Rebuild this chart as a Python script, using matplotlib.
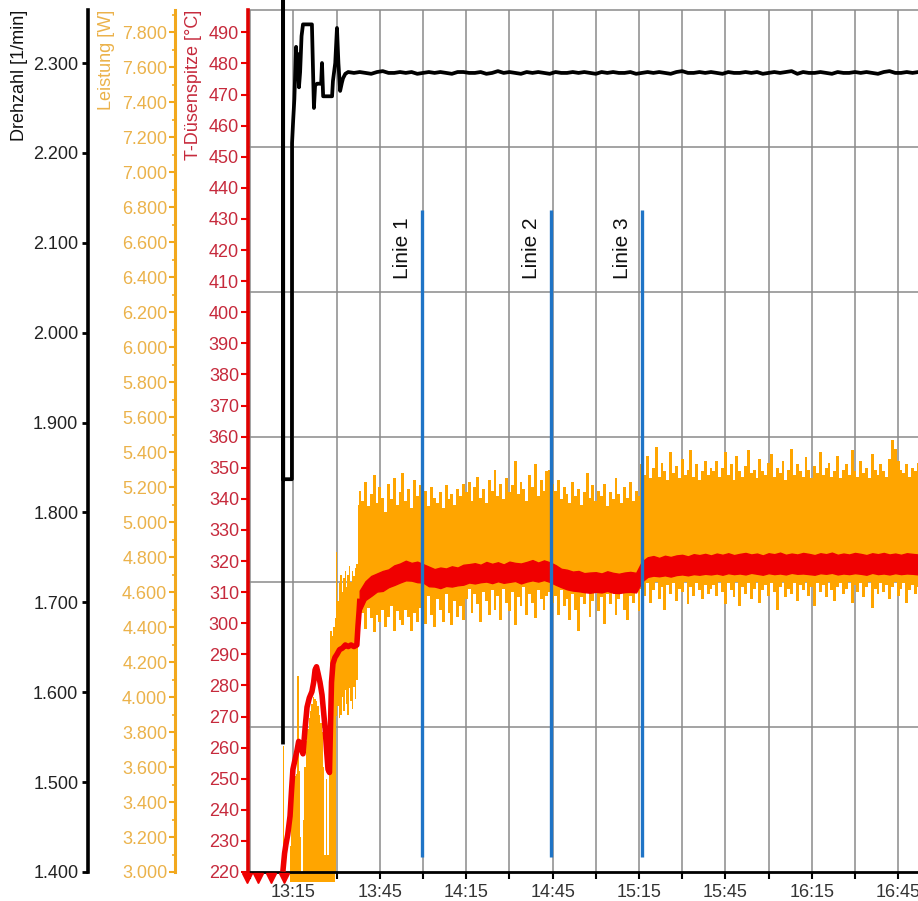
import numpy as np
import matplotlib
matplotlib.use('Agg')
import matplotlib.pyplot as plt
from matplotlib.ticker import MultipleLocator, FixedLocator, FuncFormatter

plt.rcParams['font.family'] = ['Liberation Sans', 'DejaVu Sans']

# Zeit in Minuten nach 13:00
x_ticks = [15, 45, 75, 105, 135, 165, 195, 225]
x_labels = ['13:15', '13:45', '14:15', '14:45', '15:15', '15:45', '16:15', '16:45']
x_minor = [0, 30, 60, 90, 120, 150, 180, 210]

# Drehzahl [1/min]
drehzahl_t = [11.35, 11.40, 11.45, 14.45, 14.50, 14.90, 15.30, 15.90, 16.20, 16.50,
              16.90, 17.30, 17.80, 18.30, 21.40, 21.80, 22.10, 22.50, 23.20, 24.60,
              24.90, 25.30, 28.40, 28.70, 29.50, 30.10, 30.60, 31.20, 31.80, 32.20, 33.00]
drehzahl_v = [1544, 2450, 1837, 1837, 2211, 2237, 2260, 2318, 2285, 2310,
              2273, 2290, 2330, 2343, 2343, 2290, 2250, 2275, 2277, 2277,
              2300, 2263, 2263, 2280, 2300, 2339, 2300, 2269, 2278, 2283, 2288]
drehzahl_steady = [
    2290, 2289, 2290, 2289, 2288, 2290, 2291, 2289, 2289, 2290,
    2289, 2290, 2288, 2289, 2290, 2289, 2290, 2289, 2288, 2290,
    2290, 2289, 2289, 2290, 2288, 2289, 2291, 2289, 2290, 2289,
    2288, 2290, 2289, 2290, 2289, 2288, 2290, 2289, 2289, 2290,
    2289, 2290, 2289, 2288, 2290, 2289, 2290, 2289, 2289, 2290,
    2288, 2289, 2290, 2289, 2290, 2289, 2288, 2290, 2291, 2289,
    2289, 2290, 2289, 2290, 2289, 2288, 2290, 2289, 2289, 2290,
    2289, 2290, 2288, 2289, 2290, 2289, 2290, 2291, 2288, 2290,
    2289, 2289, 2290, 2289, 2288, 2290, 2289, 2289, 2290, 2289,
    2290, 2289, 2288, 2290, 2291, 2289, 2289, 2290, 2289, 2290]

# Leistung [W], obere / untere Huellkurve
leistung_hi = [
    # 11:00 .. 37:30 (0.5 min)
    2940, 3720, 2940, 2940, 2940, 2940, 3150, 3350, 3500, 3550, 3560, 4118, 3580, 3200,
    3000, 3300, 3600, 3750, 3820, 3880, 3920, 3960, 4000, 3990, 3980, 3950, 3900, 3850,
    3800, 3600, 3100, 3530, 3100, 3700, 4380, 4350, 4400, 4450, 4830, 4550, 4650, 4700,
    4600, 4680, 4720, 4630, 4700, 4750, 4660, 4720, 4690, 4740, 4760, 5100,
    # 38 .. 232 (1 min)
    5180, 5120, 5230, 5090, 5160, 5270, 5110, 5200, 5140, 5060, 5220, 5130, 5250, 5100,
    5170, 5280, 5120, 5190, 5080, 5240, 5150, 5210,
    5120, 5180, 5090, 5200, 5140, 5110, 5170, 5080, 5210, 5130, 5160, 5100, 5190, 5150, 5220,
    5170, 5230, 5120, 5200, 5260, 5140, 5190, 5110, 5240, 5180, 5300, 5150, 5220, 5130,
    5250, 5170, 5210, 5350, 5160, 5230, 5190, 5120, 5270, 5200, 5330, 5150, 5240, 5180, 5290,
    5300, 5220, 5180, 5240, 5130, 5200, 5160, 5110, 5230, 5150, 5190, 5100, 5170, 5280,
    5140, 5210, 5120, 5180, 5150, 5220, 5090, 5170, 5130, 5250, 5160, 5110, 5200, 5140,
    5230, 5120, 5180, 5150,
    5330, 5270, 5380, 5250, 5310, 5430, 5260, 5340, 5290, 5240, 5400, 5280, 5320, 5250,
    5360, 5270, 5300, 5410, 5260, 5330, 5240, 5290, 5350, 5270, 5310,
    5290, 5350, 5260, 5310, 5400, 5270, 5330, 5240, 5380, 5290,
    5260, 5320, 5410, 5280, 5300, 5250, 5360, 5290, 5270, 5340,
    5390, 5260, 5310, 5280, 5350, 5240, 5300, 5420, 5270, 5330,
    5290, 5260, 5370, 5300, 5250, 5320, 5280, 5400, 5270, 5310,
    5340, 5260, 5290, 5380, 5250, 5300, 5330, 5270, 5410, 5290,
    5260, 5350, 5280, 5310, 5250, 5390, 5300, 5270, 5330, 5290,
    5260, 5360, 5470, 5420, 5350, 5300, 5280, 5330, 5260, 5310,
    5290, 5340]
leistung_lo = [
    2940, 2940, 2940, 2940, 2940, 2940, 2940, 2940, 2940, 2940, 2940, 2940, 2940, 2940,
    2940, 2940, 2940, 2940, 2940, 2940, 2940, 2940, 2940, 2940, 2940, 2940, 2940, 2940,
    2940, 2940, 2940, 2940, 2940, 2940, 2940, 2940, 2940, 3000, 3890, 3950, 3880, 3900,
    4000, 3920, 4040, 3960, 3900, 4050, 3980, 3930, 4060, 3990, 4100, 4300,
    4420, 4480, 4390, 4510, 4450, 4370, 4470, 4430, 4500, 4400, 4460, 4520, 4380, 4490,
    4440, 4410, 4500, 4460, 4380, 4480, 4430, 4510,
    4540, 4420, 4580, 4470, 4400, 4560, 4500, 4430, 4590, 4480, 4410, 4550, 4460, 4520, 4440,
    4560, 4620, 4480, 4590, 4530, 4430, 4600, 4550, 4470, 4610, 4500, 4580, 4440, 4620,
    4540, 4490, 4600, 4410, 4570, 4520, 4630, 4470, 4590, 4540, 4450, 4610, 4560, 4500, 4580,
    4600, 4540, 4580, 4470, 4610, 4520, 4560, 4440, 4590, 4500, 4380, 4570, 4530, 4600,
    4460, 4550, 4610, 4490, 4570, 4420, 4590, 4530, 4600, 4470, 4560, 4610, 4500, 4440,
    4580, 4540, 4600, 4490,
    4620, 4580, 4650, 4540, 4610, 4660, 4560, 4630, 4500, 4640, 4590, 4650, 4550, 4620,
    4600, 4660, 4530, 4630, 4580, 4650, 4610, 4560, 4640, 4590, 4620,
    4640, 4580, 4660, 4600, 4530, 4650, 4610, 4570, 4660, 4520,
    4630, 4590, 4650, 4560, 4620, 4660, 4540, 4610, 4640, 4580,
    4650, 4600, 4500, 4630, 4660, 4570, 4620, 4590, 4650, 4550,
    4640, 4610, 4660, 4580, 4630, 4520, 4650, 4600, 4640, 4570,
    4660, 4610, 4550, 4630, 4650, 4590, 4620, 4660, 4540, 4640,
    4600, 4650, 4570, 4630, 4660, 4510, 4620, 4590, 4650, 4600,
    4640, 4560, 4630, 4660, 4580, 4620, 4650, 4540, 4610, 4640,
    4590, 4630]

# T-Duesenspitze [°C]
temp_early_t = [11.4, 11.9, 12.4, 13.0, 13.8, 14.3, 14.8, 15.5, 16.2, 16.8, 17.3, 18.3,
                19.0, 19.7, 20.5, 21.4, 22.0, 22.5, 23.0, 23.5, 24.2, 24.9, 25.5, 26.0,
                26.5, 27.0, 27.5, 27.8, 28.2, 28.7, 29.4, 30.1, 31.0, 32.0, 33.0, 34.0,
                35.0, 36.0, 37.0, 37.4, 37.8, 38.0]
temp_early = [221, 226, 229, 232, 238, 246, 253, 256, 259, 262, 261, 258,
              266, 273, 276, 278, 281, 285, 286, 284, 281, 277, 271, 266,
              259, 253, 252, 265, 281, 287, 289, 290, 291.5, 292, 293, 292.5,
              293, 292.5, 293, 299, 304, 307]
temp_hi = [
    310.5, 313.5, 315.2, 316.0, 316.8, 317.3, 318.6, 319.2, 320.1, 319.4,
    319.8, 319.0, 318.2, 317.4, 317.9, 317.6, 318.3, 317.9, 318.8, 319.0,
    319.3, 318.8, 319.7, 319.1, 319.6, 318.9, 319.8, 319.4, 319.2, 319.7,
    320.3, 319.5, 320.2, 319.6, 318.7, 317.5, 317.2, 316.6, 316.8, 316.1,
    316.3, 316.4, 316.0, 316.7, 316.2, 315.9, 316.3, 316.5, 316.2, 319.8,
    321.2, 321.6, 321.0, 321.7, 321.3, 321.8, 322.0, 321.5, 322.2, 321.9,
    322.3, 321.8, 322.4, 322.0, 322.5, 321.9, 322.3, 322.6, 322.1, 322.4,
    321.8, 322.5, 322.2, 322.7, 322.0, 322.4, 322.1, 322.6, 322.3, 321.9,
    322.5, 322.2, 322.7, 322.0, 322.4, 322.1, 322.6, 322.3, 321.9, 322.5,
    322.2, 322.6, 322.1, 322.4, 322.0, 322.5, 322.3, 322.1]
temp_lo = [
    303.5, 307.5, 308.8, 310.2, 310.4, 311.6, 312.3, 313.1, 313.8, 313.7,
    313.2, 313.1, 311.9, 311.8, 311.3, 312.0, 311.8, 312.2, 312.4, 313.1,
    312.8, 313.2, 313.4, 312.9, 313.5, 313.0, 313.3, 313.6, 312.8, 313.4,
    313.8, 313.4, 313.9, 313.3, 312.4, 311.6, 310.9, 310.5, 310.3, 310.0,
    309.8, 310.1, 309.9, 310.4, 309.8, 309.7, 310.0, 310.1, 309.9, 313.4,
    314.9, 315.3, 315.1, 315.4, 315.0, 315.5, 315.7, 315.4, 315.8, 315.6,
    315.9, 315.7, 316.0, 315.6, 316.1, 315.8, 316.0, 315.7, 316.2, 315.9,
    315.6, 316.1, 315.8, 316.0, 315.7, 316.2, 315.9, 316.0, 315.8, 315.6,
    316.1, 315.9, 316.2, 315.7, 316.0, 315.8, 316.1, 315.9, 315.6, 316.2,
    315.8, 316.0, 315.7, 316.1, 315.8, 316.0, 315.9, 315.7]
# Werte unter 220 °C (ausserhalb der Skala)
temp_below_t = [-1.25, 2.8, 7.1, 11.6]

# Markierungen
linie_t = [59.5, 104.3, 136.0]
linie_names = ['Linie 1', 'Linie 2', 'Linie 3']
linie_von = 224.7
linie_bis = 432.8

drehzahl_t_all = np.concatenate([drehzahl_t, np.arange(34, 233, 2)])
drehzahl_all = np.concatenate([drehzahl_v, drehzahl_steady])
leistung_t = np.concatenate([np.arange(11.0, 38.0, 0.5), np.arange(38, 233)])
temp_t = np.arange(38, 233, 2)

def de_fmt(v, p):
    return f'{v:,.0f}'.replace(',', '.')

fig = plt.figure(figsize=(9.18, 9.01), dpi=100)
ax_o = fig.add_axes([248 / 918, 1 - 872 / 901, 670 / 918, 862 / 901])
ax_r = ax_o.twinx()
ax_b = ax_o.twinx()

c_orange = '#FFA500'
c_orange_sp = '#F2A81D'
c_orange_tx = '#EBB24A'
c_red = '#F00000'
c_red_tx = '#C62A3C'
c_grid = '#8a8a8a'

# Gitter
ax_o.set_axisbelow(True)
ax_o.grid(axis='x', which='both', color=c_grid, lw=1.1)
for k in range(1, 6):
    ax_o.plot([0, 1], [k * 145 / 862] * 2, transform=ax_o.transAxes, color=c_grid, lw=1.1, zorder=0.5)

# Leistung
ax_o.fill_between(leistung_t, leistung_lo, leistung_hi, step='mid', color=c_orange, lw=0,
                  clip_on=False, zorder=2)
ax_o.set_ylim(3000, 7927)
ax_o.set_xlim(-0.8, 231.9)

# Temperatur
ax_r.plot(temp_early_t, temp_early, color=c_red, lw=4, zorder=2)
ax_r.fill_between(temp_t, temp_lo, temp_hi, color=c_red, lw=1, edgecolor=c_red, zorder=2)
ax_r.plot(temp_below_t, [-0.007] * len(temp_below_t), 'v', color=c_red, ms=7.5,
          transform=ax_r.get_xaxis_transform(), clip_on=False, zorder=6)
ax_r.vlines(linie_t, linie_von, linie_bis, color='#1F74C6', lw=2.4, zorder=4)
for t, name in zip(linie_t, linie_names):
    ax_r.annotate(name, xy=(t, 430.5), xytext=(-7, 0), textcoords='offset points',
                  rotation=90, ha='right', va='top', fontsize=15, color='#111111')
ax_r.set_ylim(220, 497.2)

# Drehzahl
ax_b.plot(drehzahl_t_all, drehzahl_all, color='black', lw=2.7, clip_on=False, zorder=5)
ax_b.set_ylim(1400, 2359)

# Achsen
for a in (ax_r, ax_b):
    a.yaxis.tick_left()
    a.yaxis.set_label_position('left')
    for s in ('top', 'bottom', 'right'):
        a.spines[s].set_visible(False)
ax_o.spines['right'].set_visible(False)
ax_o.spines['top'].set_color(c_grid)
ax_o.spines['top'].set_linewidth(1.1)
ax_o.spines['bottom'].set_linewidth(2)
ax_o.spines['left'].set_position(('axes', -0.109))
ax_o.spines['left'].set_color(c_orange_sp)
ax_o.spines['left'].set_linewidth(2.2)
ax_r.spines['left'].set_color('#E00000')
ax_r.spines['left'].set_linewidth(2.6)
ax_b.spines['left'].set_position(('axes', -0.2388))
ax_b.spines['left'].set_linewidth(2.6)

ax_o.xaxis.set_major_locator(FixedLocator(x_ticks))
ax_o.set_xticklabels(x_labels)
ax_o.xaxis.set_minor_locator(FixedLocator(x_minor))
ax_o.tick_params(axis='x', which='both', length=5, width=1.5, pad=3.5, labelsize=13,
                 labelcolor='#333333')

ax_o.yaxis.set_major_locator(MultipleLocator(200))
ax_o.yaxis.set_minor_locator(MultipleLocator(100))
ax_o.yaxis.set_major_formatter(FuncFormatter(de_fmt))
ax_o.tick_params(axis='y', which='major', length=4, width=1.5, pad=1.5, labelsize=13,
                 color=c_orange_sp, labelcolor=c_orange_tx)
ax_o.tick_params(axis='y', which='minor', length=2.5, width=1.2, color=c_orange_sp)

ax_r.yaxis.set_major_locator(MultipleLocator(10))
ax_r.tick_params(axis='y', length=5, width=1.5, pad=1.5, labelsize=13, color=c_red,
                 labelcolor=c_red_tx)

ax_b.yaxis.set_major_locator(MultipleLocator(100))
ax_b.yaxis.set_major_formatter(FuncFormatter(de_fmt))
ax_b.tick_params(axis='y', length=4, width=2, pad=3, labelsize=13, color='black',
                 labelcolor='#222222')

ax_b.set_ylabel('Drehzahl [1/min]', loc='top', fontsize=13, color='#111111')
ax_b.yaxis.set_label_coords(-0.328, 1.0)
ax_o.set_ylabel('Leistung [W]', loc='top', fontsize=13, color=c_orange_tx)
ax_o.yaxis.set_label_coords(-0.1985, 1.0)
ax_r.set_ylabel('T-Düsenspitze [°C]', loc='top', fontsize=13, color=c_red_tx)
ax_r.yaxis.set_label_coords(-0.0687, 1.0)

fig.savefig('out.png', dpi=100)
